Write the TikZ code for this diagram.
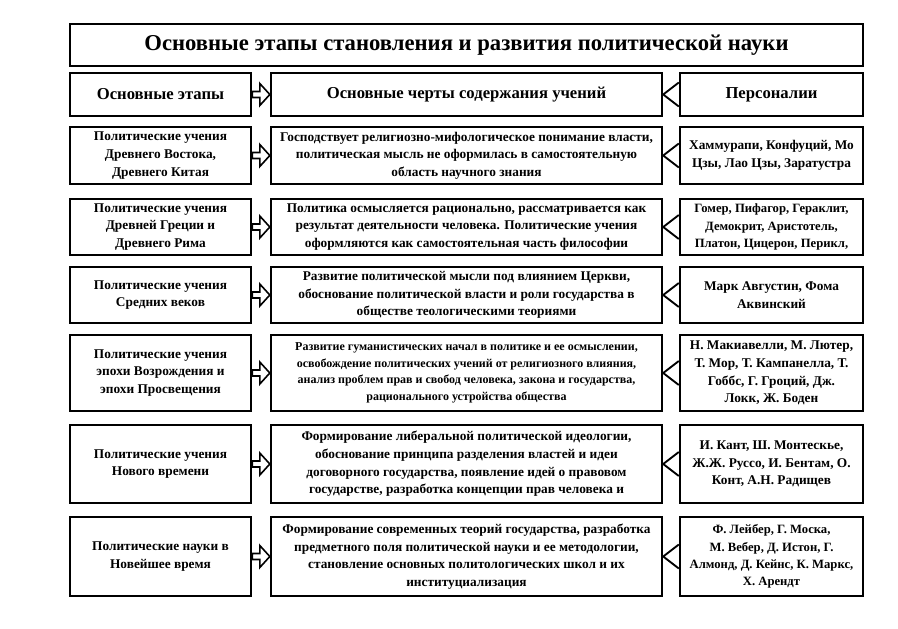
\documentclass[tikz,border=0pt]{standalone}
\usepackage{fontspec}
\setmainfont{Liberation Serif}
\usetikzlibrary{calc}

\begin{document}
\begin{tikzpicture}[x=0.75pt, y=-0.75pt, font=\bfseries\fontsize{10}{13.2}\selectfont]
\tikzstyle{box}=[draw, line width=1.8pt, align=center, inner sep=1pt]
\tikzstyle{lft}=[box, minimum width=135.75pt]
\tikzstyle{mid}=[box, minimum width=293.25pt]
\tikzstyle{rgt}=[box, minimum width=137.25pt]
\tikzstyle{hollow}=[draw, fill=white, line width=1.2pt, to path={($(\tikztostart)+(0,-3)$) -- ($(\tikztotarget)+(-10,-3)$) -- ($(\tikztotarget)+(-10,-11)$) -- (\tikztotarget) -- ($(\tikztotarget)+(-10,11)$) -- ($(\tikztotarget)+(-10,3)$) -- ($(\tikztostart)+(0,3)$) -- cycle}]
\tikzstyle{chev}=[draw, line width=1.4pt, to path={($(\tikztostart)+(0,-12)$) -- (\tikztotarget) -- ($(\tikztostart)+(0,12)$)}]
\useasboundingbox (0,0) rectangle (898,628);
% title and header
\node[box, minimum width=594.75pt, minimum height=31.5pt, font=\bfseries\fontsize{17}{20}\selectfont] (title) at (466.5,45) {Основные этапы становления и развития политической науки};
\node[lft, minimum height=32.25pt, font=\bfseries\fontsize{12.5}{15}\selectfont] (st0) at (160.5,94.5) {Основные этапы};
\node[mid, minimum height=32.25pt, font=\bfseries\fontsize{12.5}{15}\selectfont] (ft0) at (466.5,94.5) {Основные черты содержания учений};
\node[rgt, minimum height=32.25pt, font=\bfseries\fontsize{12.5}{15}\selectfont] (pr0) at (771.5,94.5) {Персоналии};
% stages
\node[lft, minimum height=42.75pt] (st1) at (160.5,155.5) {Политические учения\\Древнего Востока,\\Древнего Китая};
\node[lft, minimum height=42pt] (st2) at (160.5,227) {Политические учения\\Древней Греции и\\Древнего Рима};
\node[lft, minimum height=42pt] (st3) at (160.5,295) {Политические учения\\Средних веков};
\node[lft, minimum height=57pt] (st4) at (160.5,373) {Политические учения\\эпохи Возрождения и\\эпохи Просвещения};
\node[lft, minimum height=58.5pt] (st5) at (160.5,464) {Политические учения\\Нового времени};
\node[lft, minimum height=59.25pt] (st6) at (160.5,556.5) {Политические науки в\\Новейшее время};
% features
\node[mid, minimum height=42.75pt] (ft1) at (466.5,155.5) {Господствует религиозно-мифологическое понимание власти,\\политическая мысль не оформилась в самостоятельную\\область научного знания};
\node[mid, minimum height=42pt] (ft2) at (466.5,227) {Политика осмысляется рационально, рассматривается как\\результат деятельности человека. Политические учения\\оформляются как самостоятельная часть философии};
\node[mid, minimum height=42pt] (ft3) at (466.5,295) {Развитие политической мысли под влиянием Церкви,\\обоснование политической власти и роли государства в\\обществе теологическими теориями};
\node[mid, minimum height=57pt, font=\bfseries\fontsize{9}{12.4}\selectfont] (ft4) at (466.5,373) {Развитие гуманистических начал в политике и ее осмыслении,\\освобождение политических учений от религиозного влияния,\\анализ проблем прав и свобод человека, закона и государства,\\рационального устройства общества};
\node[mid, minimum height=58.5pt] (ft5) at (466.5,464) {Формирование либеральной политической идеологии,\\обоснование принципа разделения властей и идеи\\договорного государства, появление идей о правовом\\государстве, разработка концепции прав человека и};
\node[mid, minimum height=59.25pt] (ft6) at (466.5,556.5) {Формирование современных теорий государства, разработка\\предметного поля политической науки и ее методологии,\\становление основных политологических школ и их\\институциализация};
% persons
\node[rgt, minimum height=42.75pt] (pr1) at (771.5,155.5) {Хаммурапи, Конфуций, Мо\\Цзы, Лао Цзы, Заратустра};
\node[rgt, minimum height=42pt, font=\bfseries\fontsize{9.5}{13}\selectfont] (pr2) at (771.5,227) {Гомер, Пифагор, Гераклит,\\Демокрит, Аристотель,\\Платон, Цицерон, Перикл,};
\node[rgt, minimum height=42pt] (pr3) at (771.5,295) {Марк Августин, Фома\\Аквинский};
\node[rgt, minimum height=57pt] (pr4) at (771.5,373) {Н. Макиавелли, М. Лютер,\\Т. Мор, Т. Кампанелла, Т.\\Гоббс, Г. Гроций, Дж.\\Локк, Ж. Боден};
\node[rgt, minimum height=58.5pt] (pr5) at (771.5,464) {И. Кант, Ш. Монтескье,\\Ж.Ж. Руссо, И. Бентам, О.\\Конт, А.Н. Радищев};
\node[rgt, minimum height=59.25pt, font=\bfseries\fontsize{9.5}{13}\selectfont] (pr6) at (771.5,556.5) {Ф. Лейбер, Г. Моска,\\М. Вебер, Д. Истон, Г.\\Алмонд, Д. Кейнс, К. Маркс,\\Х. Арендт};
% arrows
\draw[hollow] (st0.east) to (ft0.west); \draw[hollow] (st1.east) to (ft1.west); \draw[hollow] (st2.east) to (ft2.west); \draw[hollow] (st3.east) to (ft3.west);
\draw[hollow] (st4.east) to (ft4.west); \draw[hollow] (st5.east) to (ft5.west); \draw[hollow] (st6.east) to (ft6.west);
\draw[chev] (pr0.west) to (ft0.east); \draw[chev] (pr1.west) to (ft1.east); \draw[chev] (pr2.west) to (ft2.east); \draw[chev] (pr3.west) to (ft3.east);
\draw[chev] (pr4.west) to (ft4.east); \draw[chev] (pr5.west) to (ft5.east); \draw[chev] (pr6.west) to (ft6.east);
\end{tikzpicture}
\end{document}
